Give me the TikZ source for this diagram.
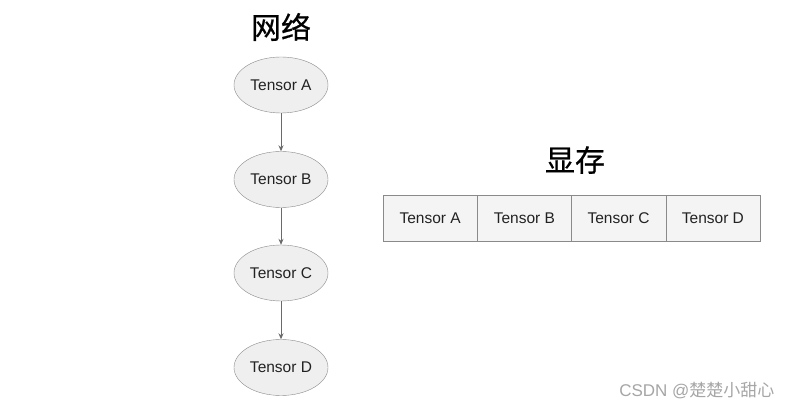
\documentclass[tikz,border=0pt]{standalone}
\usepackage{fontspec}
\setmainfont{Liberation Sans}
\newfontfamily\cjk{Noto Sans CJK SC}
\newfontfamily\cjkt[FakeBold=0.6]{Noto Sans CJK SC}
\usetikzlibrary{shapes.geometric,arrows.meta}
\definecolor{nodefill}{HTML}{EFEFEF}
\definecolor{nodeline}{HTML}{8A8A8A}
\definecolor{cellfill}{HTML}{F4F4F4}
\definecolor{arrowcol}{HTML}{6A6A6A}
\definecolor{textcol}{HTML}{222222}
\tikzset{
  tensor/.style={ellipse,draw=nodeline,fill=nodefill,minimum width=94pt,minimum height=56pt,inner sep=0pt,font=\fontsize{15.5}{17}\selectfont,text=textcol},
  cell/.style={rectangle,draw=nodeline,fill=cellfill,minimum width=94.25pt,minimum height=46pt,inner sep=0pt,font=\fontsize{15.5}{17}\selectfont,text=textcol},
  title/.style={font=\cjkt\fontsize{30}{33}\selectfont,text=black},
  link/.style={draw=arrowcol,line width=0.8pt,-{Stealth[length=6pt,width=5pt]}}
}
\begin{document}
\begin{tikzpicture}[x=1pt,y=-1pt]
\useasboundingbox[fill=white] (0,0) rectangle (792,411);
\node[title] (t1) at (281,27) {网络};
\node[tensor] (a) at (281,85) {Tensor A};
\node[tensor] (b) at (281,179.5) {Tensor B};
\node[tensor] (c) at (281,273) {Tensor C};
\node[tensor] (d) at (281,367.5) {Tensor D};
\draw[link] (a) -- (b);
\draw[link] (b) -- (c);
\draw[link] (c) -- (d);
\node[title] (t2) at (575,160) {显存};
\node[cell] (ca) at (430.1,218) {Tensor A};
\node[cell] (cb) at (524.4,218) {Tensor B};
\node[cell] (cc) at (618.6,218) {Tensor C};
\node[cell] (cd) at (712.9,218) {Tensor D};
\node[text=gray!70,font=\fontsize{17}{19}\selectfont,anchor=east] (wm) at (778,391) {CSDN @{\cjk 楚楚小甜心}};
\end{tikzpicture}
\end{document}
